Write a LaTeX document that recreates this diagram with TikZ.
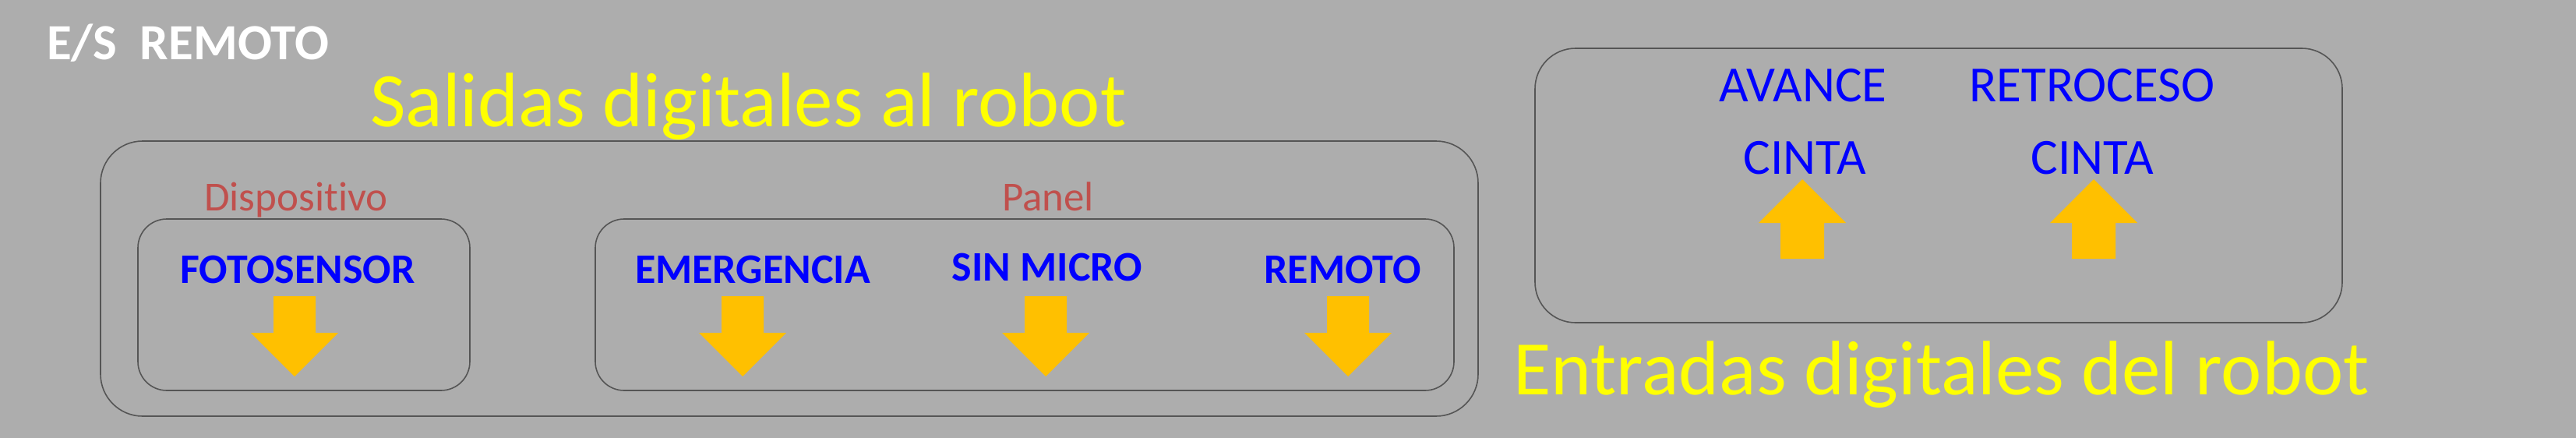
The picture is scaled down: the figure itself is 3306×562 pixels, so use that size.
\documentclass[tikz,border=0pt]{standalone}
\usepackage{fontspec}
\setmainfont{Carlito}[Ligatures={NoCommon,NoRare}]
\definecolor{bg}{HTML}{ADADAD}
\definecolor{boxline}{HTML}{555555}
\definecolor{gold}{HTML}{FFC000}
\definecolor{lbl}{HTML}{C0504D}
\definecolor{sig}{HTML}{0000FF}
\definecolor{ttl}{HTML}{FFFF00}
\begin{document}
\begin{tikzpicture}[x=1pt,y=-1pt,
  grp/.style={draw=boxline,line width=1.6pt,inner sep=0pt},
  txt/.style={inner sep=0pt,anchor=base},
  big/.style={txt,text=ttl,font=\fontsize{99}{99}\selectfont},
  cat/.style={txt,text=lbl,font=\fontsize{53}{53}\selectfont},
  sigb/.style={txt,text=sig,font=\bfseries\fontsize{54}{54}\selectfont},
  sigr/.style={txt,text=sig,font=\fontsize{65}{65}\selectfont},
  blk/.style={fill=gold}]
\fill[bg] (0,0) rectangle (3306,562);
\useasboundingbox (0,0) rectangle (3306,562);
% title
\node[txt,anchor=base west,text=white,font=\bfseries\fontsize{65}{65}\selectfont] (title) at (60,76) {E/S\ \ REMOTO};
\node[big,anchor=base west] (sal) at (475,162) {Salidas digitales al robot};
\node[big,anchor=base west] (ent) at (1942,506) {Entradas digitales del robot};
% boxes
\node[grp,rounded corners=54pt,minimum width=1768pt,minimum height=353pt] (outer) at (1013,357.5) {};
\node[grp,rounded corners=37pt,minimum width=426pt,minimum height=220pt] (disp) at (390,391) {};
\node[grp,rounded corners=37pt,minimum width=1102pt,minimum height=220pt] (panel) at (1315,391) {};
\node[grp,rounded corners=52pt,minimum width=1036pt,minimum height=352pt] (inbox) at (2488,238) {};
% category labels
\node[cat] (ldisp) at (380,270) {Dispositivo};
\node[cat] (lpanel) at (1345,270) {Panel};
% outputs
\node[sigb] (foto) at (382,363) {FOTOSENSOR};
\node[sigb] (emer) at (966,363) {EMERGENCIA};
\node[sigb] (sinm) at (1344,360) {SIN MICRO};
\node[sigb] (remo) at (1723,363) {REMOTO};
% down arrows
\foreach \cx in {378,953,1342,1730}{
  \fill[blk] (\cx-27,380) -- (\cx+27,380) -- (\cx+27,427) -- (\cx+56,427)
    -- (\cx,483) -- (\cx-56,427) -- (\cx-27,427) -- cycle;
}
% inputs
\node[sigr] (avan) at (2314,130) {AVANCE};
\node[sigr] (retr) at (2685,130) {RETROCESO};
\node[sigr] (cin1) at (2316,223) {CINTA};
\node[sigr] (cin2) at (2685,223) {CINTA};
% up arrows
\foreach \cx in {2313,2687}{
  \fill[blk] (\cx-28,332) -- (\cx+28,332) -- (\cx+28,286) -- (\cx+56,286)
    -- (\cx,230) -- (\cx-56,286) -- (\cx-28,286) -- cycle;
}
\end{tikzpicture}
\end{document}
